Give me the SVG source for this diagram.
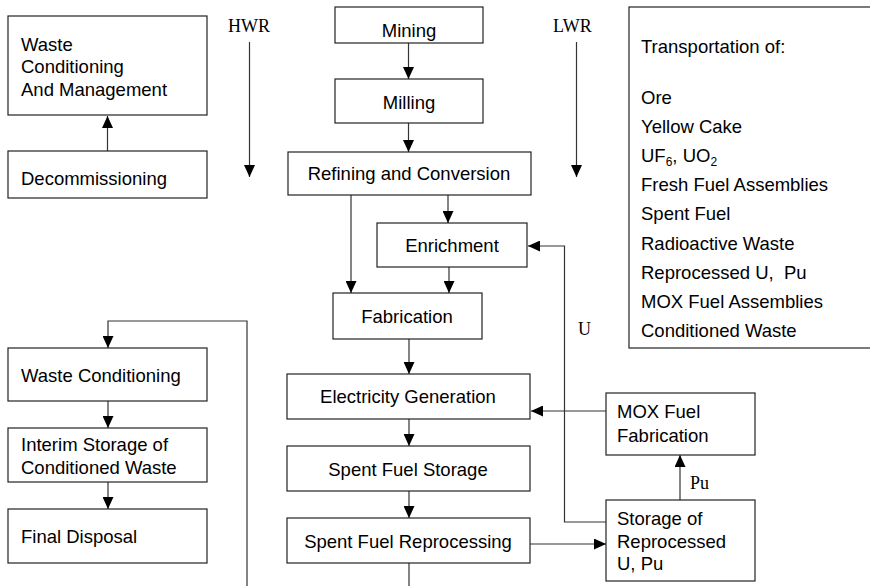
<svg xmlns="http://www.w3.org/2000/svg" width="870" height="586" viewBox="0 0 870 586">
<style>
.box{fill:#fff;stroke:#222;stroke-width:1.2}
.t{font-family:"Liberation Sans",Arial,sans-serif;font-size:18.5px;fill:#000}
.c{text-anchor:middle}
.s{font-family:"Liberation Serif","Times New Roman",serif;font-size:18px;fill:#000}
.ln{fill:none;stroke:#333;stroke-width:1.2}
</style>
<defs>
<marker id="ah" markerWidth="12" markerHeight="11" refX="12" refY="5.5" orient="auto" markerUnits="userSpaceOnUse" viewBox="0 0 12 11">
<path d="M0,0 L12,5.5 L0,11 Z" fill="#000"/>
</marker>
</defs>
<rect width="870" height="586" fill="#fff"/>

<g id="connectors">
<line class="ln" x1="107.5" y1="151" x2="107.5" y2="116" marker-end="url(#ah)"/>
<line class="ln" x1="249.5" y1="42" x2="249.5" y2="177" marker-end="url(#ah)"/>
<line class="ln" x1="576.5" y1="42" x2="576.5" y2="177" marker-end="url(#ah)"/>
<line class="ln" x1="408.5" y1="43" x2="408.5" y2="79" marker-end="url(#ah)"/>
<line class="ln" x1="408.5" y1="123" x2="408.5" y2="152" marker-end="url(#ah)"/>
<line class="ln" x1="351" y1="195" x2="351" y2="293" marker-end="url(#ah)"/>
<line class="ln" x1="448" y1="195" x2="448" y2="223" marker-end="url(#ah)"/>
<line class="ln" x1="449" y1="267" x2="449" y2="293" marker-end="url(#ah)"/>
<line class="ln" x1="409" y1="339" x2="409" y2="374" marker-end="url(#ah)"/>
<line class="ln" x1="409" y1="419" x2="409" y2="446" marker-end="url(#ah)"/>
<line class="ln" x1="409" y1="491" x2="409" y2="518" marker-end="url(#ah)"/>
<line class="ln" x1="409" y1="563" x2="409" y2="586"/>
<polyline class="ln" points="606,522 564.5,522 564.5,246 528,246" marker-end="url(#ah)"/>
<line class="ln" x1="606" y1="411" x2="531" y2="411" marker-end="url(#ah)"/>
<line class="ln" x1="530" y1="544" x2="606" y2="544" marker-end="url(#ah)"/>
<line class="ln" x1="680" y1="500" x2="680" y2="455" marker-end="url(#ah)"/>
<polyline class="ln" points="247,586 247,321 108,321 108,348" marker-end="url(#ah)"/>
<line class="ln" x1="108" y1="401" x2="108" y2="428" marker-end="url(#ah)"/>
<line class="ln" x1="108" y1="482" x2="108" y2="509" marker-end="url(#ah)"/>
<text class="s" x="228" y="32">HWR</text>
<text class="s" x="553" y="32">LWR</text>
<text class="s" x="578" y="335">U</text>
<text class="s" x="690" y="489">Pu</text>
</g>

<g id="waste-management">
<rect class="box" x="8" y="16" width="199" height="99"/>
<text class="t" x="21" y="51">Waste</text>
<text class="t" x="21" y="73">Conditioning</text>
<text class="t" x="21" y="96">And Management</text>
</g>
<g id="decommissioning">
<rect class="box" x="8" y="151" width="199" height="47"/>
<text class="t" x="21" y="185">Decommissioning</text>
</g>
<g id="mining">
<rect class="box" x="335" y="7" width="148" height="36"/>
<text class="t c" x="409" y="37">Mining</text>
</g>
<g id="milling">
<rect class="box" x="335" y="79" width="148" height="44"/>
<text class="t c" x="409" y="109">Milling</text>
</g>
<g id="refining">
<rect class="box" x="288" y="152" width="243" height="43"/>
<text class="t c" x="409" y="180">Refining and Conversion</text>
</g>
<g id="enrichment">
<rect class="box" x="377" y="223" width="150" height="44"/>
<text class="t c" x="452" y="252">Enrichment</text>
</g>
<g id="fabrication">
<rect class="box" x="333" y="293" width="149" height="46"/>
<text class="t c" x="407" y="323">Fabrication</text>
</g>
<g id="electricity">
<rect class="box" x="287" y="374" width="243" height="45"/>
<text class="t c" x="408" y="403">Electricity Generation</text>
</g>
<g id="spent-storage">
<rect class="box" x="287" y="446" width="243" height="45"/>
<text class="t c" x="408" y="476">Spent Fuel Storage</text>
</g>
<g id="reprocessing">
<rect class="box" x="287" y="518" width="243" height="45"/>
<text class="t c" x="408" y="548">Spent Fuel Reprocessing</text>
</g>
<g id="mox">
<rect class="box" x="606" y="393" width="149" height="62"/>
<text class="t" x="617" y="418">MOX Fuel</text>
<text class="t" x="617" y="442">Fabrication</text>
</g>
<g id="storage-reprocessed">
<rect class="box" x="606" y="500" width="149" height="81"/>
<text class="t" x="617" y="525">Storage of</text>
<text class="t" x="617" y="548">Reprocessed</text>
<text class="t" x="617" y="570">U, Pu</text>
</g>
<g id="waste-conditioning">
<rect class="box" x="8" y="348" width="199" height="53"/>
<text class="t" x="21" y="382">Waste Conditioning</text>
</g>
<g id="interim-storage">
<rect class="box" x="8" y="428" width="199" height="54"/>
<text class="t" x="21" y="451">Interim Storage of</text>
<text class="t" x="21" y="474">Conditioned Waste</text>
</g>
<g id="final-disposal">
<rect class="box" x="8" y="509" width="199" height="54"/>
<text class="t" x="21" y="543">Final Disposal</text>
</g>
<g id="transportation">
<rect class="box" x="629" y="7" width="260" height="341"/>
<text class="t" x="641" y="53">Transportation of:</text>
<text class="t" x="641" y="103.5">Ore</text>
<text class="t" x="641" y="132.7">Yellow Cake</text>
<text class="t" x="641" y="161.9">UF<tspan font-size="12" dy="4">6</tspan><tspan dy="-4">, UO</tspan><tspan font-size="12" dy="4">2</tspan></text>
<text class="t" x="641" y="191.1">Fresh Fuel Assemblies</text>
<text class="t" x="641" y="220.3">Spent Fuel</text>
<text class="t" x="641" y="249.5">Radioactive Waste</text>
<text class="t" x="641" y="278.7" style="white-space:pre">Reprocessed U,  Pu</text>
<text class="t" x="641" y="307.9">MOX Fuel Assemblies</text>
<text class="t" x="641" y="337">Conditioned Waste</text>
</g>
</svg>
